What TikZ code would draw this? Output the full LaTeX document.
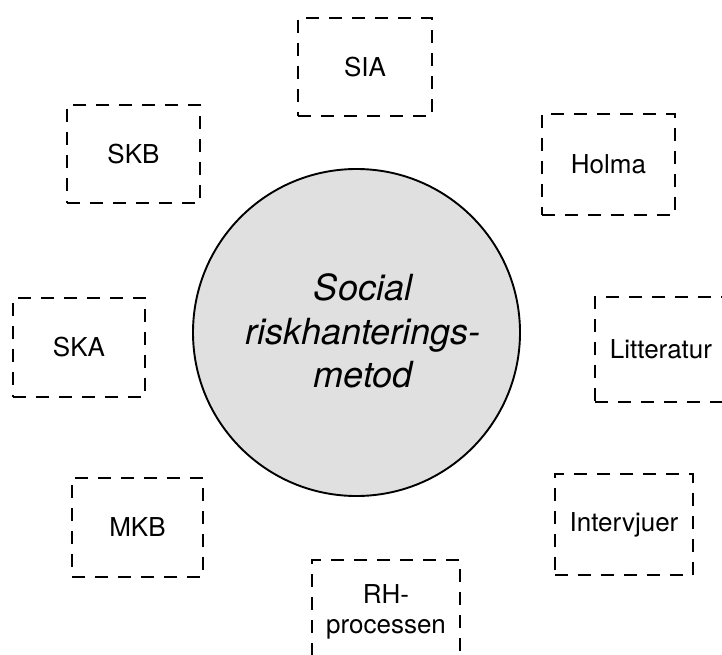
\documentclass[tikz,border=0pt]{standalone}
\usepackage{fontspec}
\setmainfont{TeX Gyre Heros}
\definecolor{circfill}{RGB}{224,224,224}
\begin{document}
\begin{tikzpicture}[x=1pt,y=-1pt,
  src/.style={draw=black, line width=2.8pt, dash pattern=on 13pt off 10pt,
    rectangle, inner sep=0pt, align=center,
    font=\fontsize{26}{30}\selectfont},
  core/.style={draw=black, line width=1.9pt, fill=circfill, circle,
    inner sep=0pt, minimum size=327pt},
  coretext/.style={align=center, inner sep=0pt,
    font=\fontsize{36}{43.5}\selectfont\itshape}]
\clip (0,0) rectangle (722,655);
\fill[white] (0,0) rectangle (722,655);

\node[core] (c) at (356.5,332.5) {};
\node[coretext] (ct) at (363,331) {Social\\riskhanterings-\\metod};

\node[src, minimum width=134pt, minimum height=98pt] (sia) at (365,67) {SIA};
\node[src, minimum width=133pt, minimum height=98pt] (skb) at (133.5,154) {SKB};
\node[src, minimum width=133pt, minimum height=101pt] (holma) at (608.5,164.5) {Holma};
\node[src, minimum width=132pt, minimum height=99pt] (ska) at (79,347.5) {SKA};
\node[src, minimum width=132pt, minimum height=105pt] (litt) at (661,349.5) {Litteratur};
\node[src, minimum width=131pt, minimum height=99pt] (mkb) at (137.5,527.5) {MKB};
\node[src, minimum width=138pt, minimum height=101pt] (intv) at (624,524.5) {Intervjuer};
\node[src, minimum width=148pt, minimum height=104pt] (rh) at (386,612) {RH-\\processen};
\end{tikzpicture}
\end{document}
